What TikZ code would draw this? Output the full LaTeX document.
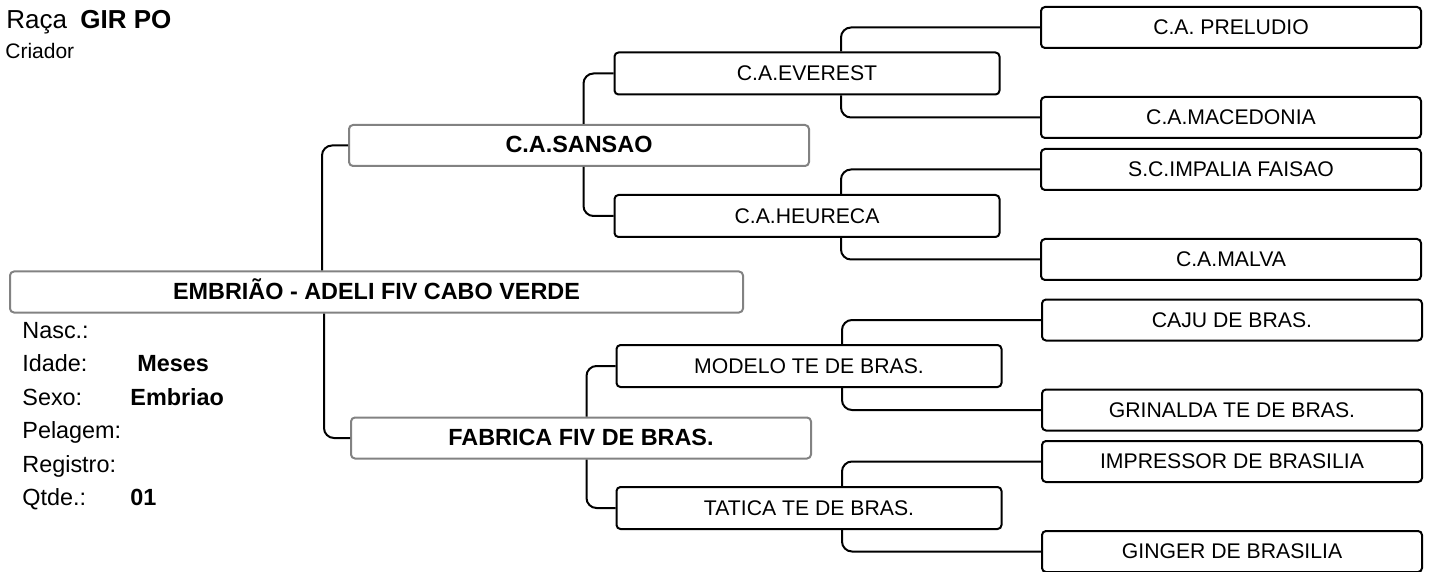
\documentclass[tikz,border=0pt]{standalone}
\usepackage{fontspec}
\setmainfont{Liberation Sans}
\usetikzlibrary{calc}
\definecolor{framegray}{RGB}{130,130,130}

\begin{document}
\begin{tikzpicture}[
  x=0.5pt, y=-0.5pt,
  rootbox/.style={draw=framegray, rounded corners=2pt, line width=1pt, minimum width=366.5pt, minimum height=20.5pt, inner sep=0pt, text height=0.72em, text depth=0pt, font=\fontsize{11.7}{14}\selectfont\bfseries},
  parentbox/.style={rootbox, minimum width=230pt},
  grandbox/.style={draw=black, rounded corners=2pt, line width=1pt, minimum width=192.5pt, minimum height=21pt, inner sep=0pt, text height=0.72em, text depth=0pt, font=\fontsize{10.6}{13}\selectfont},
  greatbox/.style={grandbox, minimum width=190pt, minimum height=20.5pt},
  infolabel/.style={anchor=base west, inner sep=0pt, font=\fontsize{11.7}{14}\selectfont},
  infovalue/.style={infolabel, font=\fontsize{11.7}{14}\selectfont\bfseries},
  linkedge/.style={black, line width=1pt, rounded corners=5pt},
]
  \useasboundingbox (0,0) rectangle (1429,572);

  % Header
  \node[infolabel, font=\fontsize{13}{15}\selectfont] (breed) at (6,29) {Raça};
  \node[infovalue, font=\fontsize{13}{15}\selectfont\bfseries] (breedval) at (80,29) {GIR PO};
  \node[infolabel, font=\fontsize{10.5}{12}\selectfont] (breeder) at (5,59) {Criador};

  % Animal
  \node[rootbox] (root) at (376.5,292) {EMBRIÃO - ADELI FIV CABO VERDE};

  % Animal data
  \node[infolabel] (nasc) at (22,338) {Nasc.:};
  \node[infolabel] (idade) at (22,371.5) {Idade:};
  \node[infovalue] (idadeval) at (137,371.5) {Meses};
  \node[infolabel] (sexo) at (22,405) {Sexo:};
  \node[infovalue] (sexoval) at (130,405) {Embriao};
  \node[infolabel] (pelagem) at (22,438.5) {Pelagem:};
  \node[infolabel] (registro) at (22,472) {Registro:};
  \node[infolabel] (qtde) at (22,505.5) {Qtde.:};
  \node[infovalue] (qtdeval) at (130,505.5) {01};

  % Parents
  \node[parentbox] (s) at (579,145.5) {C.A.SANSAO};
  \node[parentbox] (d) at (581,438) {FABRICA FIV DE BRAS.};

  % Grandparents
  \node[grandbox] (ss) at (807,73.5) {C.A.EVEREST};
  \node[grandbox] (sd) at (807,216) {C.A.HEURECA};
  \node[grandbox] (ds) at (809,366) {MODELO TE DE BRAS.};
  \node[grandbox] (dd) at (809,508) {TATICA TE DE BRAS.};

  % Great-grandparents
  \node[greatbox] (sss) at (1231,27.5) {C.A. PRELUDIO};
  \node[greatbox] (ssd) at (1231,117.5) {C.A.MACEDONIA};
  \node[greatbox] (sds) at (1231,169.5) {S.C.IMPALIA FAISAO};
  \node[greatbox] (sdd) at (1231,259.5) {C.A.MALVA};
  \node[greatbox] (dss) at (1232,320) {CAJU DE BRAS.};
  \node[greatbox] (dsd) at (1232,410) {GRINALDA TE DE BRAS.};
  \node[greatbox] (dds) at (1232,461.5) {IMPRESSOR DE BRASILIA};
  \node[greatbox] (ddd) at (1232,551.5) {GINGER DE BRASILIA};

  % Links animal -> parents
  \draw[linkedge] ($(s.west |- root.north)+(-26,0)$) |- (s.west);
  \draw[linkedge] ($(d.west |- root.south)+(-26,0)$) |- (d.west);

  % Links parents -> grandparents
  \draw[linkedge] ($(ss.west |- s.north)+(-30,0)$) |- (ss.west);
  \draw[linkedge] ($(sd.west |- s.south)+(-30,0)$) |- (sd.west);
  \draw[linkedge] ($(ds.west |- d.north)+(-29,0)$) |- (ds.west);
  \draw[linkedge] ($(dd.west |- d.south)+(-29,0)$) |- (dd.west);

  % Links grandparents -> great-grandparents
  \draw[linkedge] ($(sss.west |- ss.north)+(-199,0)$) |- (sss.west);
  \draw[linkedge] ($(ssd.west |- ss.south)+(-199,0)$) |- (ssd.west);
  \draw[linkedge] ($(sds.west |- sd.north)+(-199,0)$) |- (sds.west);
  \draw[linkedge] ($(sdd.west |- sd.south)+(-199,0)$) |- (sdd.west);
  \draw[linkedge] ($(dss.west |- ds.north)+(-199,0)$) |- (dss.west);
  \draw[linkedge] ($(dsd.west |- ds.south)+(-199,0)$) |- (dsd.west);
  \draw[linkedge] ($(dds.west |- dd.north)+(-199,0)$) |- (dds.west);
  \draw[linkedge] ($(ddd.west |- dd.south)+(-199,0)$) |- (ddd.west);
\end{tikzpicture}
\end{document}
